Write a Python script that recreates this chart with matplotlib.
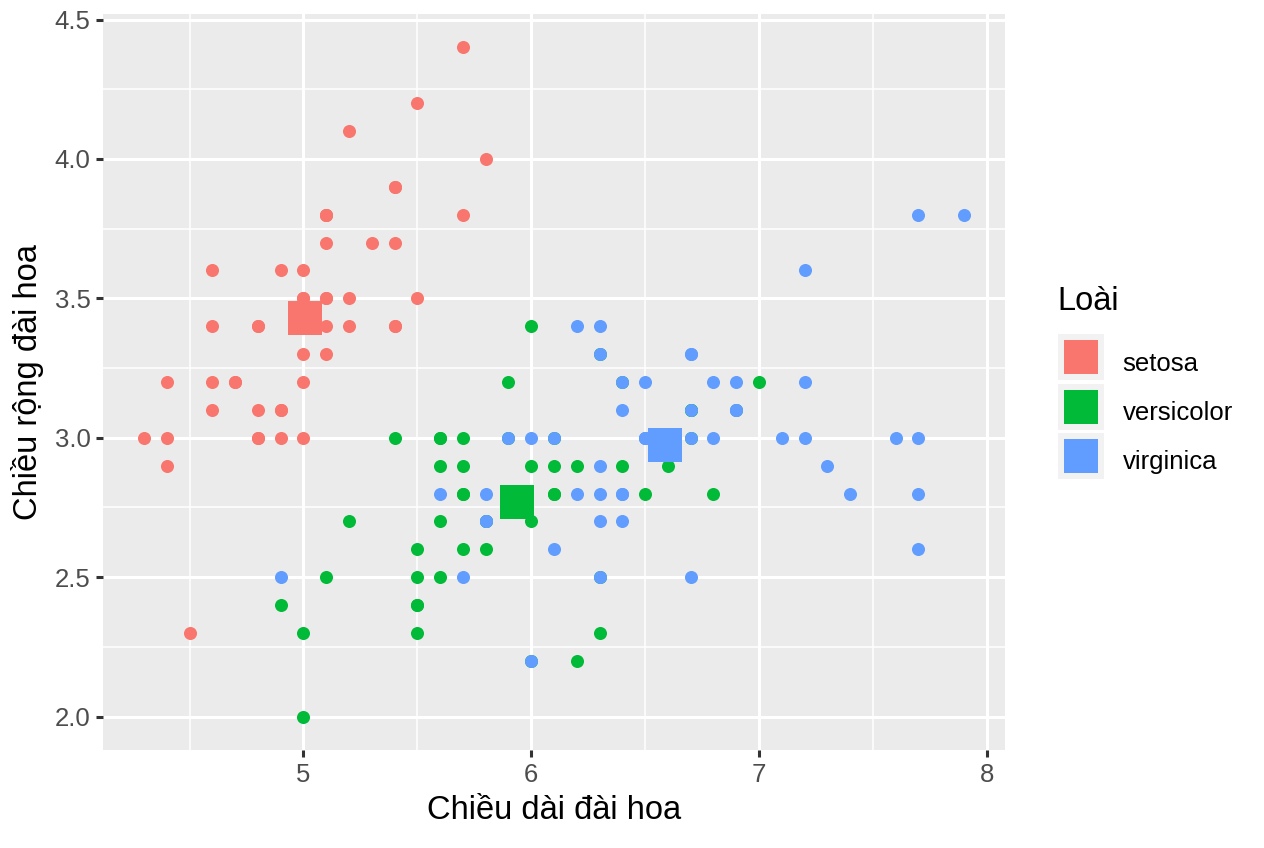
import numpy as np
import matplotlib
matplotlib.use("Agg")
import matplotlib.pyplot as plt
from matplotlib.lines import Line2D
from matplotlib.legend_handler import HandlerTuple

plt.rcParams['font.family'] = ['Liberation Sans', 'DejaVu Sans']

# iris: sepal length / sepal width per species
setosa_len = [5.1, 4.9, 4.7, 4.6, 5.0, 5.4, 4.6, 5.0, 4.4, 4.9, 5.4, 4.8, 4.8, 4.3, 5.8,
              5.7, 5.4, 5.1, 5.7, 5.1, 5.4, 5.1, 4.6, 5.1, 4.8, 5.0, 5.0, 5.2, 5.2, 4.7,
              4.8, 5.4, 5.2, 5.5, 4.9, 5.0, 5.5, 4.9, 4.4, 5.1, 5.0, 4.5, 4.4, 5.0, 5.1,
              4.8, 5.1, 4.6, 5.3, 5.0]
setosa_wid = [3.5, 3.0, 3.2, 3.1, 3.6, 3.9, 3.4, 3.4, 2.9, 3.1, 3.7, 3.4, 3.0, 3.0, 4.0,
              4.4, 3.9, 3.5, 3.8, 3.8, 3.4, 3.7, 3.6, 3.3, 3.4, 3.0, 3.4, 3.5, 3.4, 3.2,
              3.1, 3.4, 4.1, 4.2, 3.1, 3.2, 3.5, 3.6, 3.0, 3.4, 3.5, 2.3, 3.2, 3.5, 3.8,
              3.0, 3.8, 3.2, 3.7, 3.3]
versicolor_len = [7.0, 6.4, 6.9, 5.5, 6.5, 5.7, 6.3, 4.9, 6.6, 5.2, 5.0, 5.9, 6.0, 6.1, 5.6,
                  6.7, 5.6, 5.8, 6.2, 5.6, 5.9, 6.1, 6.3, 6.1, 6.4, 6.6, 6.8, 6.7, 6.0, 5.7,
                  5.5, 5.5, 5.8, 6.0, 5.4, 6.0, 6.7, 6.3, 5.6, 5.5, 5.5, 6.1, 5.8, 5.0, 5.6,
                  5.7, 5.7, 6.2, 5.1, 5.7]
versicolor_wid = [3.2, 3.2, 3.1, 2.3, 2.8, 2.8, 3.3, 2.4, 2.9, 2.7, 2.0, 3.0, 2.2, 2.9, 2.9,
                  3.1, 3.0, 2.7, 2.2, 2.5, 3.2, 2.8, 2.5, 2.8, 2.9, 3.0, 2.8, 3.0, 2.9, 2.6,
                  2.4, 2.4, 2.7, 2.7, 3.0, 3.4, 3.1, 2.3, 3.0, 2.5, 2.6, 3.0, 2.6, 2.3, 2.7,
                  3.0, 2.9, 2.9, 2.5, 2.8]
virginica_len = [6.3, 5.8, 7.1, 6.3, 6.5, 7.6, 4.9, 7.3, 6.7, 7.2, 6.5, 6.4, 6.8, 5.7, 5.8,
                 6.4, 6.5, 7.7, 7.7, 6.0, 6.9, 5.6, 7.7, 6.3, 6.7, 7.2, 6.2, 6.1, 6.4, 7.2,
                 7.4, 7.9, 6.4, 6.3, 6.1, 7.7, 6.3, 6.4, 6.0, 6.9, 6.7, 6.9, 5.8, 6.8, 6.7,
                 6.7, 6.3, 6.5, 6.2, 5.9]
virginica_wid = [3.3, 2.7, 3.0, 2.9, 3.0, 3.0, 2.5, 2.9, 2.5, 3.6, 3.2, 2.7, 3.0, 2.5, 2.8,
                 3.2, 3.0, 3.8, 2.6, 2.2, 3.2, 2.8, 2.8, 2.7, 3.3, 3.2, 2.8, 3.0, 2.8, 3.0,
                 2.8, 3.8, 2.8, 2.8, 2.6, 3.0, 3.4, 3.1, 3.0, 3.1, 3.1, 3.1, 2.7, 3.2, 3.3,
                 3.0, 2.5, 3.0, 3.4, 3.0]

species = ["setosa", "versicolor", "virginica"]
colors = ["#F8766D", "#00BA38", "#619CFF"]
lengths = [setosa_len, versicolor_len, virginica_len]
widths = [setosa_wid, versicolor_wid, virginica_wid]

x_ticks = [5, 6, 7, 8]
y_ticks = [2.0, 2.5, 3.0, 3.5, 4.0, 4.5]

fig = plt.figure(figsize=(12.64, 8.48), dpi=100)
ax = fig.add_axes([103 / 1264, 1 - 750 / 848, (1005 - 103) / 1264, (750 - 14) / 848])
ax.set_facecolor("#EBEBEB")
for s in ax.spines.values():
    s.set_visible(False)

for xs, ys, c in zip(lengths, widths, colors):
    ax.scatter(xs, ys, s=88, color=c, linewidths=0, zorder=3)
# centroid of each species
for xs, ys, c in zip(lengths, widths, colors):
    ax.scatter([np.mean(xs)], [np.mean(ys)], s=600, marker="s", color=c,
               linewidths=0, zorder=3)

ax.set_xlim(4.12, 8.08)
ax.set_ylim(1.88, 4.52)
ax.set_xticks(x_ticks)
ax.set_xticklabels([str(t) for t in x_ticks])
ax.set_yticks(y_ticks)
ax.set_yticklabels(["%.1f" % t for t in y_ticks])
ax.set_xticks([4.5, 5.5, 6.5, 7.5], minor=True)
ax.set_yticks([2.25, 2.75, 3.25, 3.75, 4.25], minor=True)
ax.grid(which="major", color="white", linewidth=2.2)
ax.grid(which="minor", color="white", linewidth=1.1)
ax.set_axisbelow(True)
ax.tick_params(which="major", length=5, width=2.2, color="#333333",
               labelcolor="#4D4D4D", labelsize=18.5, pad=4)
ax.tick_params(which="minor", length=0)

ax.set_xlabel("Chiều dài đài hoa", fontsize=23.5, labelpad=6)
ax.set_ylabel("Chiều rộng đài hoa", fontsize=23.5, labelpad=8)

handles = []
for c in colors:
    bg = Line2D([], [], marker="s", linestyle="none", markersize=34,
                markerfacecolor="#F2F2F2", markeredgecolor="white", markeredgewidth=1.5)
    fg = Line2D([], [], marker="s", linestyle="none", markersize=25,
                markerfacecolor=c, markeredgewidth=0)
    handles.append((bg, fg))

leg = fig.legend(handles, species, title="Loài", loc="center left",
                 bbox_to_anchor=(1057 / 1264, 1 - 382.5 / 848), frameon=False,
                 handler_map={tuple: HandlerTuple(ndivide=1, pad=0)},
                 fontsize=18.5, title_fontsize=23.5, alignment="left",
                 handlelength=1.85, handleheight=1.8, labelspacing=0.5,
                 handletextpad=0.7, borderpad=0, borderaxespad=0)
leg._legend_box.sep = 19.4  # more room under the title

fig.savefig("out.png", dpi=100)
